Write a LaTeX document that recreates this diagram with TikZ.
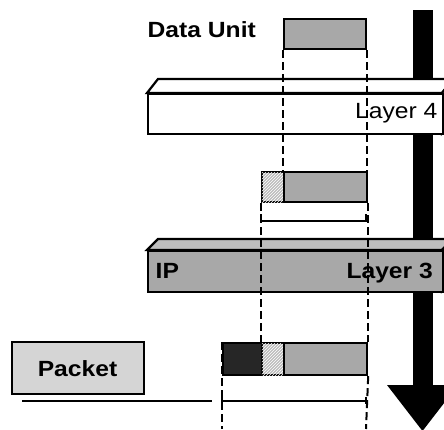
\documentclass[tikz,border=0pt]{standalone}
\usepackage{fontspec}
\usetikzlibrary{patterns}
\newfontfamily\labfont[FakeStretch=1.12]{Liberation Sans}
\definecolor{unitgray}{HTML}{A8A8A8}
\definecolor{topgray}{HTML}{BEBEBE}
\definecolor{pktgray}{HTML}{D5D5D5}
\definecolor{hdrblack}{HTML}{262626}
\definecolor{hatchbg}{HTML}{BDBDBD}
\tikzset{
  box/.style={draw=black, line width=2.2pt, inner sep=0pt, anchor=north west},
  unitbox/.style={box, fill=unitgray},
  hatchbox/.style={box, fill=hatchbg, postaction={pattern=north east lines, pattern color=white}},
  blackbox/.style={box, fill=hdrblack},
  slab/.style={draw=black, line width=2.2pt, line join=miter},
  dashline/.style={draw=black, line width=2pt, dash pattern=on 8pt off 4pt},
  solidline/.style={draw=black, line width=2pt},
  lab/.style={inner sep=0pt, font=\labfont\fontsize{22}{22}\selectfont},
  blab/.style={lab, font=\labfont\bfseries\fontsize{22}{22}\selectfont},
}
\begin{document}
\begin{tikzpicture}[x=1pt, y=-1pt]
\useasboundingbox (0,0) rectangle (444,429);
% big arrow (behind slabs)
\fill[black] (412.5,10) rectangle (432.5,386);
\fill[black] (387,385) -- (458,385) -- (422.5,431) -- cycle;
% Layer 4 slab
\draw[slab, fill=white] (147,93) -- (158,79) -- (453,79) -- (442,93) -- cycle;
\draw[slab, fill=white] (442,93) -- (453,79) -- (453,119) -- (442,133) -- cycle;
\node[box, fill=white, minimum width=295pt, minimum height=40pt] (l4) at (147,93) {};
% Layer 3 slab
\draw[slab, fill=topgray] (147,250) -- (158,239) -- (453,239) -- (442,250) -- cycle;
\draw[slab, fill=topgray] (442,250) -- (453,239) -- (453,280) -- (442,291) -- cycle;
\node[box, fill=unitgray, minimum width=295pt, minimum height=41pt] (l3) at (147,250) {};
% data unit
\node[unitbox, minimum width=82pt, minimum height=30pt] (du) at (283,18) {};
% segment with header
\node[hatchbox, minimum width=22pt, minimum height=30pt] (sh) at (260.7,171) {};
\node[unitbox, minimum width=83.3pt, minimum height=30pt] (sd) at (282.7,171) {};
% packet
\node[blackbox, minimum width=39pt, minimum height=32pt] (pb) at (221.7,342) {};
\node[hatchbox, minimum width=22pt, minimum height=32pt] (ph) at (260.7,342) {};
\node[unitbox, minimum width=83.3pt, minimum height=32pt] (pd) at (282.7,342) {};
% packet label
\node[box, fill=pktgray, minimum width=132pt, minimum height=52pt] (pl) at (11,341) {};
% dashed lines
\draw[dashline] (du.south west) -- (du.south west |- sd.north);
\draw[dashline] (du.south east) -- (du.south east |- sd.north);
\draw[dashline] (sh.south west) -- (sh.south west |- ph.north);
\draw[dashline] (sd.south east) -- (sd.south east |- pd.north);
\coordinate (pbl) at (221.7,429);
\coordinate (pbr) at (366,429);
\draw[dashline] (pb.north west) -- (pbl);
\draw[dashline] (pd.south east) -- (pbr);
% bracket at layer 3
\coordinate (b3l) at (260.7,221);
\coordinate (b3r) at (366,221);
\draw[solidline] ([yshift=7pt]b3l) -- (b3l) -- (b3r) -- ([yshift=7pt]b3r);
% bracket at packet
\coordinate (bpl) at (221.7,400.7);
\coordinate (bpr) at (366,400.7);
\coordinate (ll) at (22,400.7);
\coordinate (lr) at (212,400.7);
\draw[solidline] (bpl) -- (bpr);
\draw[solidline] ([yshift=-3.5pt]bpl) -- ([yshift=3.5pt]bpl);
\draw[solidline] ([yshift=-3.5pt]bpr) -- ([yshift=3.5pt]bpr);
\draw[solidline] (ll) -- (lr);
% labels
\node[blab, anchor=base west] (tdu) at (147.5,37) {Data Unit};
\node[lab, anchor=base east] (t4) at (437.5,118) {Layer 4};
\node[blab, anchor=base west] (tip) at (155.5,278) {IP};
\node[blab, anchor=base east] (t3) at (433,278) {Layer 3};
\node[blab, anchor=base] (tpk) at (77.5,376) {Packet};
\end{tikzpicture}
\end{document}
